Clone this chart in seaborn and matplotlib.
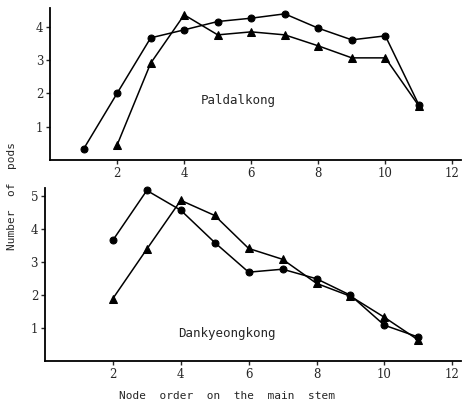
import numpy as np
import pandas as pd
import matplotlib
matplotlib.use("Agg")
import matplotlib.pyplot as plt
import seaborn as sns

# node order on the main stem
nodes_top_circ = [1, 2, 3, 4, 5, 6, 7, 8, 9, 10, 11]
pods_top_circ = [0.33, 2.0, 3.66, 3.9, 4.15, 4.25, 4.38, 3.95, 3.6, 3.72, 1.65]
nodes_top_tri = [2, 3, 4, 5, 6, 7, 8, 9, 10, 11]
pods_top_tri = [0.45, 2.9, 4.35, 3.75, 3.84, 3.75, 3.42, 3.06, 3.06, 1.62]

nodes_bot = [2, 3, 4, 5, 6, 7, 8, 9, 10, 11]
pods_bot_circ = [3.67, 5.18, 4.58, 3.6, 2.7, 2.79, 2.5, 2.0, 1.09, 0.73]
pods_bot_tri = [1.9, 3.4, 4.88, 4.42, 3.42, 3.09, 2.36, 1.97, 1.33, 0.64]

sns.set_style("ticks")
plt.rcParams['font.family'] = ['DejaVu Serif']

fig = plt.figure(figsize=(4.64, 4.09), dpi=100)
ax1 = fig.add_axes([0.108, 0.609, 0.885, 0.371])
ax2 = fig.add_axes([0.097, 0.117, 0.896, 0.423])

def draw(ax, xc, yc, xt, yt):
    sns.lineplot(x=xc, y=yc, ax=ax, color='black', marker='o', markersize=5,
                 markeredgecolor='black', linewidth=1.1, clip_on=False)
    sns.lineplot(x=xt, y=yt, ax=ax, color='black', marker='^', markersize=5.5,
                 markeredgecolor='black', linewidth=1.1, clip_on=False)
    ax.set_xlim(0, 12.25)
    ax.set_xticks([2, 4, 6, 8, 10, 12])
    ax.tick_params(direction='out', length=3, width=1, labelsize=8.5, pad=2)
    for s in ['top', 'right']:
        ax.spines[s].set_visible(False)
    for s in ['left', 'bottom']:
        ax.spines[s].set_linewidth(1.3)
        ax.spines[s].set_color('black')
    ax.set_xlabel('')
    ax.set_ylabel('')

draw(ax1, nodes_top_circ, pods_top_circ, nodes_top_tri, pods_top_tri)
ax1.set_ylim(0, 4.55)
ax1.set_yticks([1, 2, 3, 4])
ax1.text(5.6, 1.77, 'Paldalkong', fontsize=9, ha='center', va='center',
         family='DejaVu Sans Mono')

draw(ax2, nodes_bot, pods_bot_circ, nodes_bot, pods_bot_tri)
ax2.set_ylim(0, 5.25)
ax2.set_yticks([1, 2, 3, 4, 5])
ax2.text(5.35, 0.85, 'Dankyeongkong', fontsize=9, ha='center', va='center',
         family='DejaVu Sans Mono')

fig.text(0.49, 0.025, 'Node  order  on  the  main  stem', ha='center',
         fontsize=8, family='DejaVu Sans Mono')
fig.text(0.015, 0.52, 'Number  of  pods', rotation=90, va='center',
         fontsize=8, family='DejaVu Sans Mono')

fig.savefig('out.png', dpi=100)
